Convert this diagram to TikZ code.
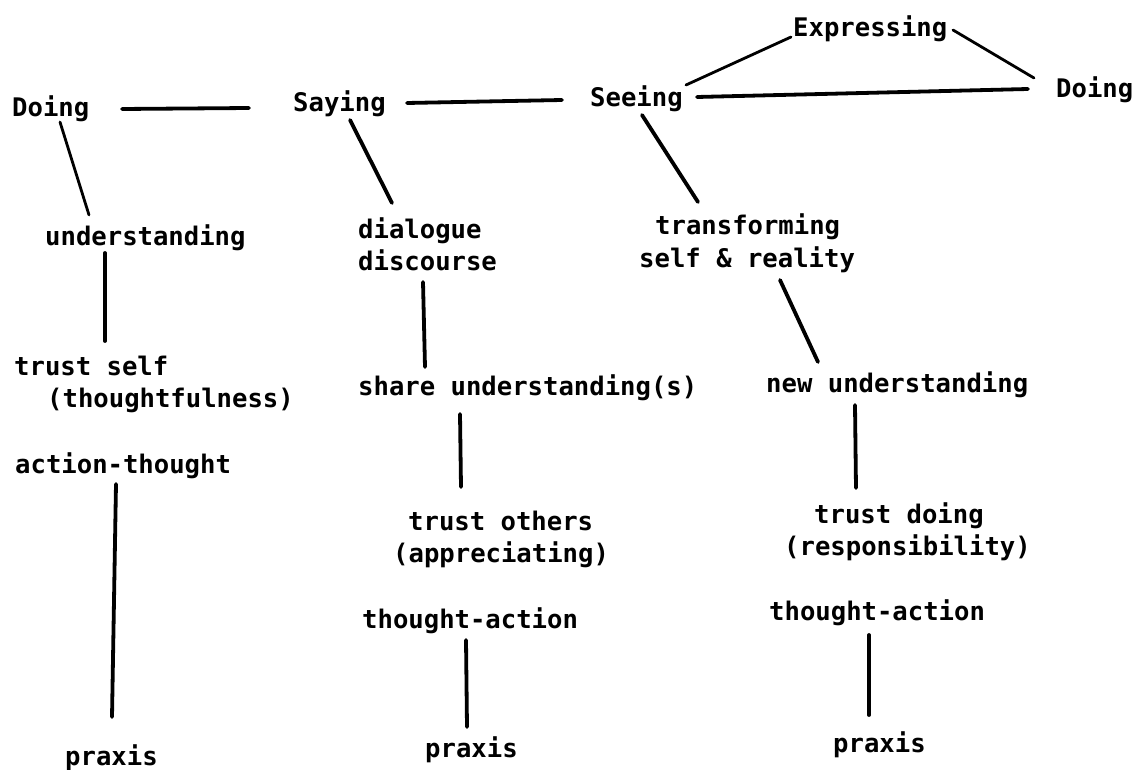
\documentclass[tikz,border=0pt]{standalone}
\usepackage{fontspec}
\newfontfamily\tw{DejaVu Sans Mono}
\begin{document}
\begin{tikzpicture}[x=1pt,y=-1pt,
  txt/.style={inner sep=0pt, anchor=base west, font=\tw\bfseries\fontsize{25.6}{32}\selectfont},
  link/.style={line width=3.8pt, line cap=round},
  thinlink/.style={line width=2.8pt, line cap=round}]
\useasboundingbox[fill=white] (0,0) rectangle (1136,770);
% nodes
\node[txt] (expr) at (793,37) {Expressing};
\node[txt] (doingL) at (12,117) {Doing};
\node[txt] (saying) at (293,112) {Saying};
\node[txt] (seeing) at (590,107) {Seeing};
\node[txt] (doingR) at (1056,98) {Doing};
\node[txt] (under) at (45,246) {understanding};
\node[txt] (dial) at (358,239) {dialogue};
\node[txt] (disc) at (358,271) {discourse};
\node[txt] (transf) at (655,235) {transforming};
\node[txt] (selfr) at (639,268) {self \& reality};
\node[txt] (trustself) at (14,375) {trust self};
\node[txt] (thoughtful) at (47,407) {(thoughtfulness)};
\node[txt] (share) at (358,395) {share understanding(s)};
\node[txt] (newu) at (766,392) {new understanding};
\node[txt] (actthought) at (15,473) {action-thought};
\node[txt] (trustothers) at (408,530) {trust others};
\node[txt] (apprec) at (393,562) {(appreciating)};
\node[txt] (trustdoing) at (814,523) {trust doing};
\node[txt] (respons) at (784,555) {(responsibility)};
\node[txt] (thoughtM) at (362,628) {thought-action};
\node[txt] (thoughtR) at (769,620) {thought-action};
\node[txt] (praxisL) at (65,765) {praxis};
\node[txt] (praxisM) at (425,757) {praxis};
\node[txt] (praxisR) at (833,752) {praxis};
% connectors
\draw[link] ([shift={(110,-8)}]doingL.base west) -- ([shift={(-44,-4)}]saying.base west);
\draw[link] ([shift={(114,-9)}]saying.base west) -- ([shift={(-28,-7)}]seeing.base west);
\draw[link] ([shift={(107,-10)}]seeing.base west) -- ([shift={(-28,-9)}]doingR.base west);
\draw[thinlink] ([shift={(96,-22)}]seeing.base west) -- ([shift={(-2,0)}]expr.base west);
\draw[thinlink] ([shift={(160,-7)}]expr.base west) -- ([shift={(-22,-20)}]doingR.base west);
\draw[thinlink] ([shift={(48,5)}]doingL.base west) -- ([shift={(44,-31)}]under.base west);
\draw[link] ([shift={(60,7)}]under.base west) -- ([shift={(91,-34)}]trustself.base west);
\draw[link] ([shift={(101,11)}]actthought.base west) -- ([shift={(47,-48)}]praxisL.base west);
\draw[link] ([shift={(57,8)}]saying.base west) -- ([shift={(34,-36)}]dial.base west);
\draw[link] ([shift={(65,11)}]disc.base west) -- ([shift={(67,-28)}]share.base west);
\draw[link] ([shift={(102,19)}]share.base west) -- ([shift={(53,-43)}]trustothers.base west);
\draw[link] ([shift={(104,12)}]thoughtM.base west) -- ([shift={(42,-30)}]praxisM.base west);
\draw[link] ([shift={(52,8)}]seeing.base west) -- ([shift={(43,-33)}]transf.base west);
\draw[link] ([shift={(141,12)}]selfr.base west) -- ([shift={(52,-30)}]newu.base west);
\draw[link] ([shift={(89,13)}]newu.base west) -- ([shift={(42,-35)}]trustdoing.base west);
\draw[link] ([shift={(100,15)}]thoughtR.base west) -- ([shift={(36,-37)}]praxisR.base west);
\end{tikzpicture}
\end{document}
